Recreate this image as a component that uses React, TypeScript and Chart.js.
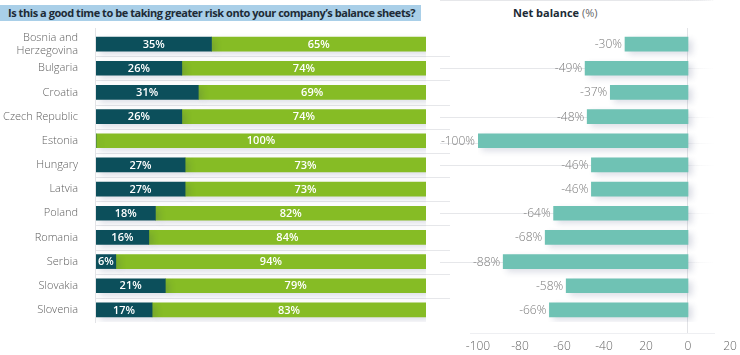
import React, { useEffect, useRef } from "react";
import { Chart, registerables } from "chart.js";

Chart.register(...registerables);

const categories: (string | string[])[] = [
  ["Bosnia and", "Herzegovina"],
  "Bulgaria",
  "Croatia",
  "Czech Republic",
  "Estonia",
  "Hungary",
  "Latvia",
  "Poland",
  "Romania",
  "Serbia",
  "Slovakia",
  "Slovenia",
];
const yesValues = [35, 26, 31, 26, 0, 27, 27, 18, 16, 6, 21, 17];
const noValues = [65, 74, 69, 74, 100, 73, 73, 82, 84, 94, 79, 83];
const netBalance = [-30, -49, -37, -48, -100, -46, -46, -64, -68, -88, -58, -66];
const netTickValues = [-100, -80, -60, -40, -20, 0, 20];
const netTickLabels = ["-100", "-80", "-60", "-40", "20", "0", "20"];

const titleText = "Is this a good time to be taking greater risk onto your company\u2019s balance sheets?";
const netTitle = "Net balance";
const netUnit = " (%)";

const FONT = "'Open Sans', 'Noto Sans', sans-serif";
const DARK = "#0c4f5b";
const GREEN = "#86bc25";
const TEAL = "#6fc2b4";
const SEP = "#e6e7ea";

function shadowPlugin(id: string) {
  return {
    id,
    beforeDatasetsDraw(chart: any) {
      const ctx = chart.ctx;
      ctx.save();
      ctx.shadowColor = "rgba(40,50,100,0.16)";
      ctx.shadowBlur = 6;
      ctx.shadowOffsetX = 4;
      ctx.shadowOffsetY = 3;
    },
    afterDatasetsDraw(chart: any) {
      chart.ctx.restore();
    },
  };
}

function separatorPlugin(x1: number, x2: number, fade: boolean, axisX: (c: any) => number, axisTop: number, axisBottom: number, bottomLine: boolean) {
  return {
    id: "separators",
    beforeDatasetsDraw(chart: any) {
      const ctx = chart.ctx;
      const ys = chart.scales.y;
      const n = categories.length;
      ctx.save();
      ctx.lineWidth = 1;
      let stroke: any = SEP;
      if (fade) {
        const g = ctx.createLinearGradient(x1, 0, x2, 0);
        g.addColorStop(0, SEP);
        g.addColorStop(0.8, SEP);
        g.addColorStop(1, "rgba(230,231,234,0)");
        stroke = g;
      }
      ctx.strokeStyle = stroke;
      for (let i = 1; i < n; i++) {
        const y = Math.round((ys.getPixelForTick(i - 1) + ys.getPixelForTick(i)) / 2) + 0.5;
        ctx.beginPath();
        ctx.moveTo(x1, y);
        ctx.lineTo(x2, y);
        ctx.stroke();
      }
      if (bottomLine) {
        const y = axisBottom + 0.5;
        ctx.strokeStyle = "rgba(238,239,242,1)";
        ctx.beginPath();
        ctx.moveTo(x1 + 30, y);
        ctx.lineTo(x2, y);
        ctx.stroke();
      }
      ctx.strokeStyle = "#e2e3e6";
      const ax = Math.round(axisX(chart)) - 0.5;
      ctx.beginPath();
      ctx.moveTo(ax, axisTop);
      ctx.lineTo(ax, axisBottom);
      ctx.stroke();
      ctx.restore();
    },
  };
}

const leftLabels = {
  id: "leftLabels",
  afterDatasetsDraw(chart: any) {
    const ctx = chart.ctx;
    ctx.save();
    ctx.fillStyle = "#ffffff";
    ctx.font = `600 11px ${FONT}`;
    ctx.textAlign = "center";
    ctx.textBaseline = "middle";
    chart.data.datasets.forEach((ds: any, di: number) => {
      const meta = chart.getDatasetMeta(di);
      meta.data.forEach((el: any, i: number) => {
        const v = ds.data[i];
        if (!v) return;
        ctx.fillText(`${v}%`, (el.x + el.base) / 2, el.y + 0.5);
      });
    });
    ctx.restore();
  },
};

const rightLabels = {
  id: "rightLabels",
  afterDatasetsDraw(chart: any) {
    const ctx = chart.ctx;
    ctx.save();
    ctx.fillStyle = "#7a7a7a";
    ctx.font = `300 12px ${FONT}`;
    ctx.textAlign = "right";
    ctx.textBaseline = "middle";
    const meta = chart.getDatasetMeta(0);
    meta.data.forEach((el: any, i: number) => {
      ctx.fillText(`${netBalance[i]}%`, el.x - 3, el.y + 0.5);
    });
    ctx.restore();
  },
};

export default function App() {
  const leftRef = useRef<HTMLCanvasElement>(null);
  const rightRef = useRef<HTMLCanvasElement>(null);

  useEffect(() => {
    const left = new Chart(leftRef.current as HTMLCanvasElement, {
      type: "bar",
      data: {
        labels: categories as any,
        datasets: [
          { label: "Yes", data: yesValues, backgroundColor: DARK, barThickness: 14 },
          { label: "No", data: noValues, backgroundColor: GREEN, barThickness: 14 },
        ],
      },
      options: {
        indexAxis: "y",
        responsive: false,
        animation: false,
        layout: { padding: { top: 32, bottom: 33, right: 24, left: 0 } },
        plugins: { legend: { display: false }, tooltip: { enabled: false }, title: { display: false } },
        scales: {
          x: { stacked: true, min: 0, max: 100, display: false },
          y: {
            stacked: true,
            offset: true,
            grid: { display: false, drawTicks: false },
            border: { display: false },
            ticks: {
              color: "#606060",
              font: { family: FONT, size: 11, weight: 300 as any, lineHeight: 1.15 },
              padding: 18,
              autoSkip: false,
            },
            afterFit: (s: any) => { s.width = 96; },
          },
        },
      },
      plugins: [
        separatorPlugin(95, 450, false, (c: any) => c.chartArea.left, 28, 323, false),
        shadowPlugin("shadowL"),
        leftLabels,
      ],
    });

    const right = new Chart(rightRef.current as HTMLCanvasElement, {
      type: "bar",
      data: {
        labels: categories as any,
        datasets: [{ label: "Net balance", data: netBalance, backgroundColor: TEAL, barThickness: 14 }],
      },
      options: {
        indexAxis: "y",
        responsive: false,
        animation: false,
        layout: { padding: { top: 32, bottom: 0, right: 10, left: 38 } },
        plugins: { legend: { display: false }, tooltip: { enabled: false } },
        scales: {
          x: {
            min: -100,
            max: 20,
            grid: { display: false, drawTicks: false },
            border: { display: false },
            afterBuildTicks: (s: any) => { s.ticks = netTickValues.map((v) => ({ value: v })); },
            ticks: {
              color: "#666",
              font: { family: FONT, size: 12, weight: 300 as any },
              padding: 17,
              maxRotation: 0,
              autoSkip: false,
              callback: (v: any) => netTickLabels[netTickValues.indexOf(Number(v))],
            },
            afterFit: (s: any) => {
              s.height = 33;
              s.paddingLeft = 0;
              s.paddingRight = 0;
            },
          },
          y: { offset: true, display: false },
        },
      },
      plugins: [
        separatorPlugin(0, 275, true, (c: any) => c.scales.x.getPixelForValue(0), 28, 333, true),
        shadowPlugin("shadowR"),
        rightLabels,
      ],
    });

    return () => {
      left.destroy();
      right.destroy();
    };
  }, []);

  return (
    <div style={{ position: "absolute", left: 0, top: 0, width: 740, height: 355, background: "#fff", overflow: "hidden", fontFamily: FONT }}>
      <div
        style={{
          position: "absolute",
          left: 0,
          top: 5,
          height: 16,
          lineHeight: "16px",
          padding: "0 6px 0 8px",
          background: "#a9cfe8",
          color: "#1d2b36",
          fontWeight: 700,
          fontSize: 11,
          letterSpacing: "-0.45px",
          whiteSpace: "nowrap",
        }}
      >
        {titleText}
      </div>
      <div style={{ position: "absolute", left: 513, top: 5, lineHeight: "16px", fontSize: 11, color: "#1d2b36", whiteSpace: "nowrap" }}>
        <span style={{ fontWeight: 700 }}>{netTitle}</span>
        <span style={{ fontWeight: 400, color: "#666" }}>{netUnit}</span>
      </div>
      <canvas ref={leftRef} width={450} height={355} style={{ position: "absolute", left: 0, top: 0 }} />
      <canvas ref={rightRef} width={300} height={355} style={{ position: "absolute", left: 440, top: 0 }} />
    </div>
  );
}
